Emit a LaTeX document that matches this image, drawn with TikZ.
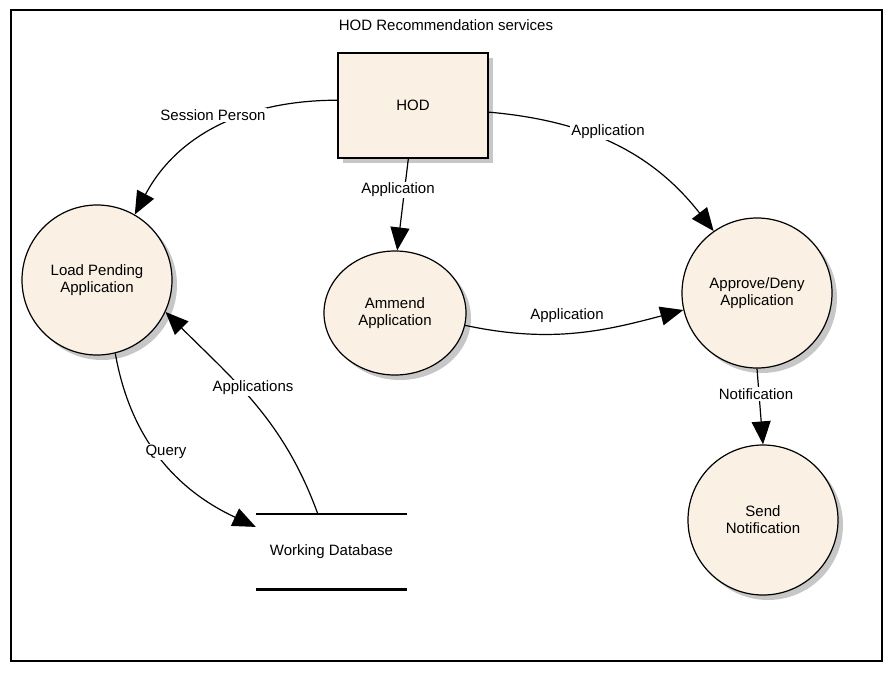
\documentclass[tikz,border=0pt]{standalone}
\usepackage{fontspec}
\setmainfont{Liberation Sans}
\usetikzlibrary{positioning,shapes,arrows.meta,shadows}
\definecolor{procfill}{RGB}{250,240,228}

\begin{document}
\begin{tikzpicture}[
    x=1pt, y=-1pt,
    font=\fontsize{15}{17}\selectfont,
    >={Triangle[length=23pt,width=19pt]},
    procshadow/.style={drop shadow={shadow xshift=5pt, shadow yshift=-5pt,
        fill=black!22, opacity=1}},
    entitybox/.style={draw, line width=1.2pt, fill=procfill, procshadow,
        minimum width=150pt, minimum height=105pt, inner sep=0pt},
    procnode/.style={circle, draw, line width=1.2pt, fill=procfill, procshadow,
        minimum size=150pt, inner sep=0pt, align=center},
    storenode/.style={minimum width=151pt, minimum height=75pt, inner sep=0pt},
    dbline/.style={line width=2.6pt},
    arr/.style={->, line width=1.2pt},
    lbl/.style={fill=white, inner sep=1pt},
]
\useasboundingbox (0,0) rectangle (895,678);

% === FRAME ===
\draw[line width=1.3pt] (11,10) rectangle (882,661);
\node (title) at (446,25) {HOD Recommendation services};

% === NODES ===
\node[entitybox] (hod) at (413,105.5) {HOD};
\node[procnode] (load) at (97,280) {Load Pending\\Application};
\node[ellipse, draw, line width=1.2pt, fill=procfill, procshadow,
    minimum width=142pt, minimum height=124pt, inner sep=0pt, align=center]
    (amm) at (395,313) {Ammend\\Application};
\node[procnode] (appr) at (757,293) {Approve/Deny\\Application};
\node[procnode] (send) at (763,520) {Send\\Notification};

% Data store
\node[storenode] (wdb) at (331.5,551.5) {Working Database};
\draw[dbline] (wdb.north west) -- (wdb.north east);
\draw[dbline] (wdb.south west) -- (wdb.south east);

% === FLOWS ===
\draw[arr] (hod.176) to[out=180, in=62] (load.60);
\node[lbl] (l1) at (213,115) {Session Person};

\draw[arr] (hod.-5) to[out=-5, in=128] (appr.125);
\node[lbl] (l2) at (608,132) {Application};

\draw[arr] (hod.265) -- (amm.88);
\node[lbl] (l3) at (398,190) {Application};

\draw[arr] (amm.-10) to[out=-12, in=195] (appr.193);
\node[lbl, fill=none] (l4) at (567,316) {Application};

\draw[arr] (appr.south) -- (send.north);
\node[lbl] (l5) at (756,394) {Notification};

\draw[arr] (load.-76) to[out=-80, in=155] (wdb.162);
\node[lbl] (l6) at (166,452) {Query};

\draw[arr] (wdb.110) to[out=110, in=-45] (load.-25);
\node[lbl] (l7) at (253,388) {Applications};

\end{tikzpicture}
\end{document}
